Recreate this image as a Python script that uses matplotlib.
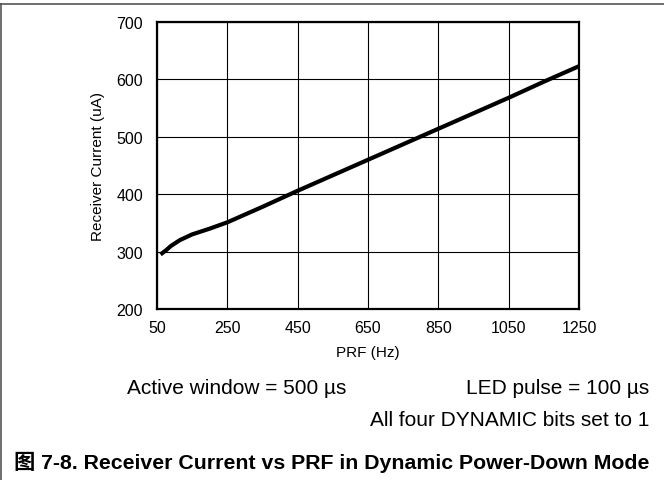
import matplotlib
matplotlib.use("Agg")
import matplotlib.pyplot as plt
from matplotlib.lines import Line2D

# values
prf_hz = [60, 75, 90, 115, 150, 200, 250, 350, 450, 550, 650, 750, 850, 950, 1050, 1150, 1250]
current_ua = [295, 302, 310, 320, 330, 340, 351, 378, 406, 433, 460, 487, 514, 541, 568, 596, 623]
x_ticks = [50, 250, 450, 650, 850, 1050, 1250]
y_ticks = [200, 300, 400, 500, 600, 700]

plt.rcParams["font.family"] = ["Liberation Sans", "DejaVu Sans"]

fig = plt.figure(figsize=(6.64, 4.81), dpi=100)
ax = fig.add_axes([157 / 664, 1 - 310 / 481, 422 / 664, 287 / 481])

ax.plot(prf_hz, current_ua, color="black", linewidth=3, solid_capstyle="butt")

ax.set_xlim(50, 1250)
ax.set_ylim(200, 700)
ax.set_xticks(x_ticks)
ax.set_yticks(y_ticks)
ax.tick_params(length=0, labelsize=11.5, pad=8)
ax.tick_params(axis="y", pad=10)
ax.grid(True, color="black", linewidth=0.8)
ax.set_axisbelow(True)
for s in ax.spines.values():
    s.set_linewidth(1.6)

ax.set_xlabel("PRF (Hz)", fontsize=11, labelpad=7)
ax.set_ylabel("Receiver Current (uA)", fontsize=11, labelpad=8)

fig.text(127 / 664, 1 - 388 / 481, "Active window = 500 µs", fontsize=15, va="center", ha="left")
fig.text(649 / 664, 1 - 388 / 481, "LED pulse = 100 µs", fontsize=15, va="center", ha="right")
fig.text(649 / 664, 1 - 420 / 481, "All four DYNAMIC bits set to 1", fontsize=15, va="center", ha="right")
fig.text(649 / 664, 1 - 462 / 481, "图 7-8. Receiver Current vs PRF in Dynamic Power-Down Mode",
         fontsize=15.3, fontweight="bold", va="center", ha="right",
         family=["Liberation Sans", "Noto Sans CJK SC"])

# frame lines of the figure box
fig.add_artist(Line2D([0, 1], [1 - 4.7 / 481, 1 - 4.7 / 481], color="#555555", linewidth=1.2, transform=fig.transFigure))
fig.add_artist(Line2D([1 / 664, 1 / 664], [0, 1 - 4.7 / 481], color="#555555", linewidth=1.2, transform=fig.transFigure))

fig.savefig("out.png", dpi=100)
